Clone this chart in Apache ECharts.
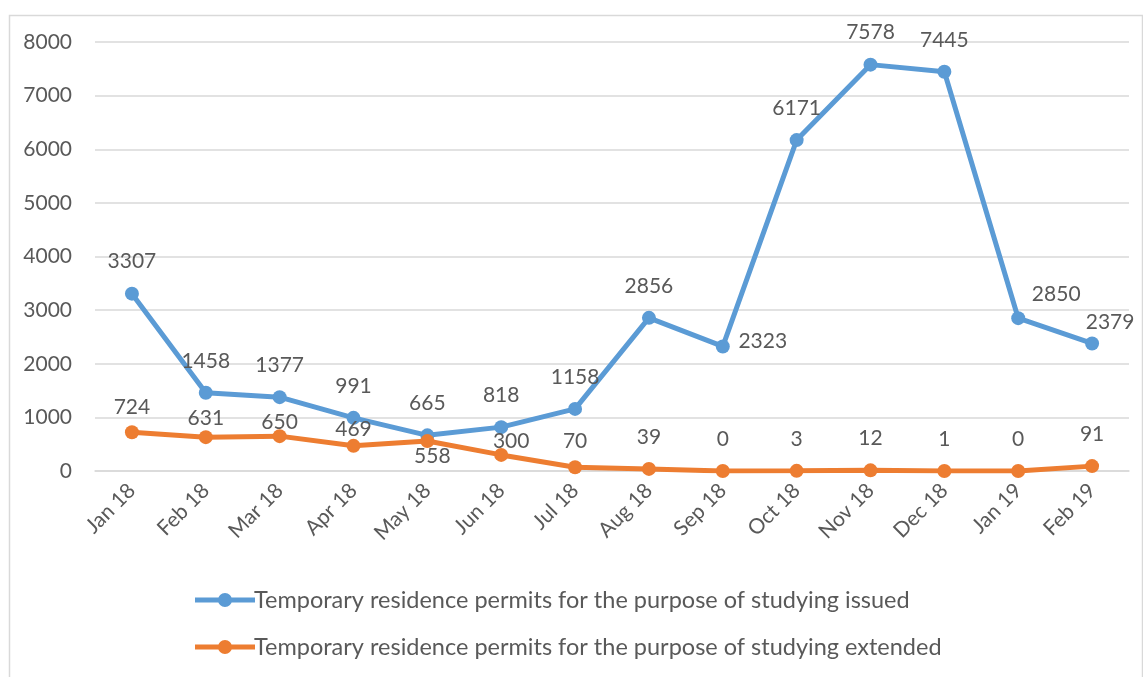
<!DOCTYPE html>
<html>
<head>
<meta charset="utf-8">
<script src="https://cdn.jsdelivr.net/npm/echarts@6/dist/echarts.min.js"></script>
<style>
  html, body { margin: 0; padding: 0; background: #fff; }
  #chart { width: 1143px; height: 677px; }
</style>
</head>
<body>
<div id="chart"></div>
<script>
const months = ["Jan 18", "Feb 18", "Mar 18", "Apr 18", "May 18", "Jun 18", "Jul 18",
  "Aug 18", "Sep 18", "Oct 18", "Nov 18", "Dec 18", "Jan 19", "Feb 19"]
const issued = [3307, 1458, 1377, 991, 665, 818, 1158, 2856, 2323, 6171, 7578, 7445, 2850, 2379]
const extended = [724, 631, 650, 469, 558, 300, 70, 39, 0, 3, 12, 1, 0, 91]
const yTicks = [0, 1000, 2000, 3000, 4000, 5000, 6000, 7000, 8000]

const font = "Lato, 'Open Sans', sans-serif"
const textColor = "#595959"
// legend marker: thick line with a dot in the middle
const legendIcon = "path://M0,5.5 L60,5.5 L60,10.5 L0,10.5 Z M23,8 A7,7 0 1,1 37,8 A7,7 0 1,1 23,8 Z"

// label nudges, like the hand-moved labels in the original
const issuedLabelMove = { 8: [40, -5], 12: [38, -24], 13: [18, -21] }
const extendedLabelMove = { 0: [0, -25], 1: [0, -19], 2: [0, -14], 3: [0, -17], 4: [5, 15], 5: [10, -14], 6: [0, -26] }

const withLabels = (values, moves) => values.map((v, i) => ({
  value: v,
  label: { offset: moves[i] || [0, -32] }
}))

const chart = echarts.init(document.getElementById("chart"), null, { renderer: "canvas" })

const lineSeries = (name, color, values, moves) => ({
  name: name,
  type: "line",
  symbol: "circle",
  symbolSize: 14,
  lineStyle: { width: 5, color: color },
  itemStyle: { color: color },
  label: {
    show: true,
    position: "inside",
    color: textColor,
    fontFamily: font,
    fontSize: 21
  },
  emphasis: { disabled: true },
  data: withLabels(values, moves)
})

chart.setOption({
  animation: false,
  textStyle: { fontFamily: font },
  graphic: [{
    type: "rect",
    left: 7,
    top: 13,
    shape: { width: 1133, height: 700 },
    style: { fill: "none", stroke: "#d9d9d9", lineWidth: 1.5 },
    silent: true
  }],
  grid: { left: 95, right: 14, top: 42, bottom: 206 },
  legend: {
    orient: "vertical",
    left: 190,
    top: 583,
    itemGap: 23,
    itemWidth: 60,
    itemHeight: 16,
    icon: legendIcon,
    textStyle: { color: textColor, fontSize: 23.5, fontFamily: font, padding: [0, 0, 0, -6] },
    data: [
      "Temporary residence permits for the purpose of studying issued",
      "Temporary residence permits for the purpose of studying extended"
    ]
  },
  xAxis: {
    type: "category",
    data: months,
    boundaryGap: true,
    axisLine: { lineStyle: { color: "#d9d9d9", width: 1.5 } },
    axisTick: { show: false },
    axisLabel: { rotate: 45, color: textColor, fontSize: 21, fontFamily: font, margin: 16 }
  },
  yAxis: {
    type: "value",
    min: yTicks[0],
    max: yTicks[yTicks.length - 1],
    interval: 1000,
    axisLine: { show: false },
    axisTick: { show: false },
    splitLine: { lineStyle: { color: "#d9d9d9", width: 1.5 } },
    axisLabel: { color: textColor, fontSize: 21, fontFamily: font, margin: 23, formatter: v => String(v) }
  },
  series: [
    lineSeries("Temporary residence permits for the purpose of studying issued", "#5b9bd5", issued, issuedLabelMove),
    lineSeries("Temporary residence permits for the purpose of studying extended", "#ed7d31", extended, extendedLabelMove)
  ]
})
</script>
</body>
</html>
